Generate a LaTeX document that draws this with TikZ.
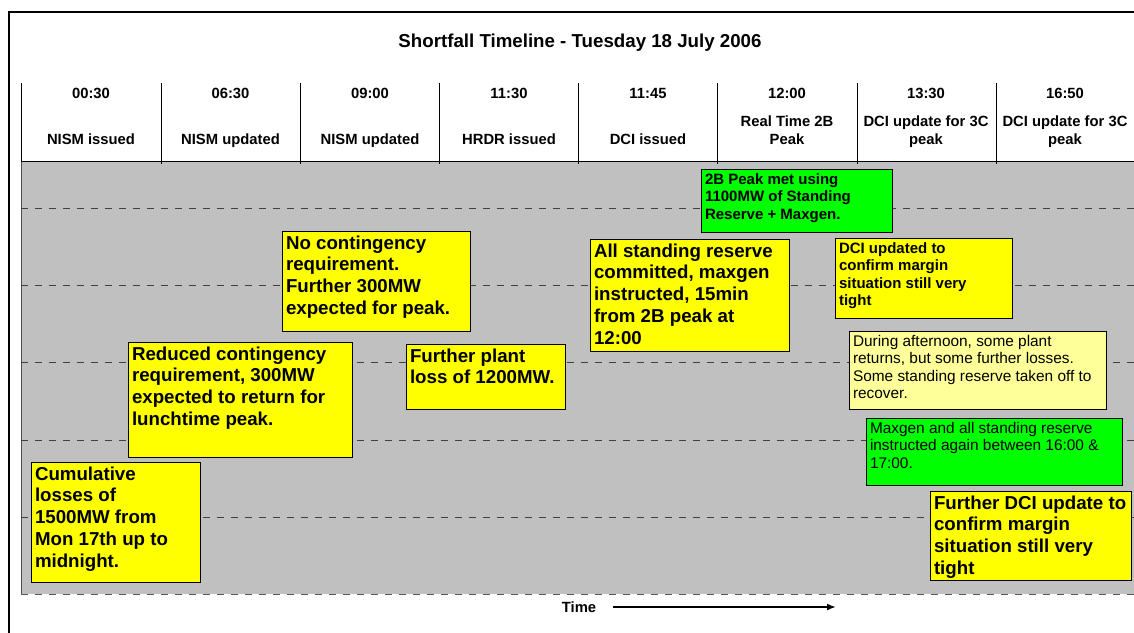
\documentclass[tikz,border=0pt]{standalone}
\usepackage{fontspec}
\setmainfont{Liberation Sans}
\usetikzlibrary{arrows.meta}
\definecolor{evyellow}{HTML}{FFFF00}
\definecolor{evgreen}{HTML}{00FF00}
\definecolor{evpale}{HTML}{FFFF99}
\definecolor{bggrey}{HTML}{C0C0C0}
\definecolor{dashgrey}{HTML}{404040}
\newcommand\evBig{\fontsize{18.7}{21.8}\selectfont\bfseries}
\newcommand\evSmB{\fontsize{15}{17.5}\selectfont\bfseries}
\newcommand\evSmR{\fontsize{15.4}{17.2}\selectfont}
\newcommand\evHead{\fontsize{14.8}{17.8}\selectfont\bfseries}
\newcommand\evTitle{\fontsize{18.7}{22}\selectfont\bfseries}
\newcommand\evtext[3]{\parbox[c][#2][t]{#1}{\raggedright #3}}
\tikzset{
  x=1pt, y=-1pt,
  evt/.style={draw=black, line width=1pt, inner xsep=3.5pt, inner ysep=4pt, anchor=north west},
  hdr/.style={font=\evHead, anchor=base, align=center},
  tl/.style={dash pattern=on 7pt off 7pt, draw=dashgrey, line width=0.9pt},
}
\begin{document}
\begin{tikzpicture}
\useasboundingbox (0,0) rectangle (1134,632);
% outer frame
\draw[line width=1.2pt] (9,650) -- (9,12) -- (1150,12);
% title
\node[font=\evTitle, anchor=base] (title) at (580,47) {Shortfall Timeline - Tuesday 18 July 2006};
% header dividers
\foreach \xx in {21,161,300,439,578,717,857,996} {
  \draw[line width=0.9pt] (\xx,83) -- (\xx,164);
}
% header labels
\node[hdr] (h1) at (91,98) {00:30};
\node[hdr] (h2) at (230.5,98) {06:30};
\node[hdr] (h3) at (370,98) {09:00};
\node[hdr] (h4) at (509,98) {11:30};
\node[hdr] (h5) at (648,98) {11:45};
\node[hdr] (h6) at (787,98) {12:00};
\node[hdr] (h7) at (926,98) {13:30};
\node[hdr] (h8) at (1065,98) {16:50};
\node[hdr] (e1) at (91,144) {NISM issued};
\node[hdr] (e2) at (230.5,144) {NISM updated};
\node[hdr] (e3) at (370,144) {NISM updated};
\node[hdr] (e4) at (509,144) {HRDR issued};
\node[hdr] (e5) at (648,144) {DCI issued};
\node[hdr] (e6) at (787,144) {Real Time 2B\\Peak};
\node[hdr] (e7) at (926,144) {DCI update for 3C\\peak};
\node[hdr] (e8) at (1065,144) {DCI update for 3C\\peak};
% grey timeline area
\fill[bggrey] (21,161) rectangle (1140,594);
\draw[line width=0.9pt, draw=gray!60!black] (21,161) -- (21,594);
\draw[tl, draw=gray!70!black] (21,594) -- (1140,594);
\draw[line width=1pt] (21,161) -- (1140,161);
\foreach \xx in {161,300,439,578,717,857,996} {
  \draw[line width=0.9pt] (\xx,158) -- (\xx,164);
}
\foreach \yy in {208,285,362,440,517} {
  \draw[tl] (21,\yy) -- (1140,\yy);
}
% event boxes
\node[evt, fill=evgreen, font=\evSmB] (b2b) at (701,169)
  {\evtext{184pt}{55pt}{2B Peak met using\\1100MW of Standing\\Reserve + Maxgen.}};
\node[evt, fill=evyellow, font=\evBig] (bnocont) at (282,231)
  {\evtext{181pt}{92pt}{No contingency\\requirement.\\Further 300MW\\expected for peak.}};
\node[evt, fill=evyellow, font=\evBig] (ballres) at (590,239)
  {\evtext{192pt}{104pt}{All standing reserve\\committed, maxgen\\instructed, 15min\\from 2B peak at\\12:00}};
\node[evt, fill=evyellow, font=\evSmB] (bdciupd) at (835,238)
  {\evtext{170pt}{72pt}{DCI updated to\\confirm margin\\situation still very\\tight}};
\node[evt, fill=evpale, font=\evSmR] (bafter) at (849,331)
  {\evtext{250pt}{70pt}{During afternoon, some plant\\returns, but some further losses.\\Some standing reserve taken off to\\recover.}};
\node[evt, fill=evgreen, font=\evSmR] (bmaxgen) at (866,418)
  {\evtext{249pt}{59pt}{Maxgen and all standing reserve\\instructed again between 16:00 \&\\17:00.}};
\node[evt, fill=evyellow, font=\evBig] (breduced) at (128,342)
  {\evtext{217pt}{107pt}{Reduced contingency\\requirement, 300MW\\expected to return for\\lunchtime peak.}};
\node[evt, fill=evyellow, font=\evBig] (bplant) at (406,344)
  {\evtext{152pt}{57pt}{Further plant\\loss of 1200MW.}};
\node[evt, fill=evyellow, font=\evBig] (bcumul) at (31,462)
  {\evtext{162pt}{112pt}{Cumulative\\losses of\\1500MW from\\Mon 17th up to\\midnight.}};
\node[evt, fill=evyellow, font=\evBig] (bfdci) at (930,491)
  {\evtext{194pt}{81pt}{Further DCI update to\\confirm margin\\situation still very\\tight}};
% time arrow
\node[font=\evHead, anchor=base] (timelbl) at (579,612) {Time};
\coordinate (tstart) at (613,607);
\coordinate (tend) at (836,607);
\draw[line width=2pt, -{Latex[length=9pt,width=7pt]}] (tstart) -- (tend);
\end{tikzpicture}
\end{document}
